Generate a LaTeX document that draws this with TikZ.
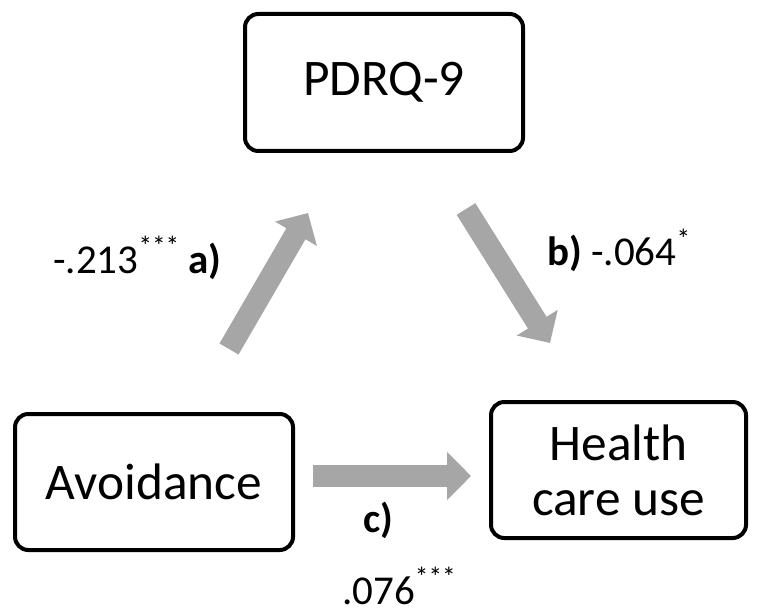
\documentclass[tikz,border=0pt]{standalone}
\usepackage{fontspec}
\setmainfont{Carlito}
\usetikzlibrary{arrows.meta}
\definecolor{pfeilgrau}{RGB}{166,166,166}
\newcommand\sterne[1]{\raisebox{13pt}{\fontsize{20.5}{20.5}\selectfont #1}}
\tikzset{
	kasten/.style={draw=black, line width=3pt, rounded corners=10pt, fill=white,
		inner sep=0pt, align=center, font=\fontsize{38.5}{41.25}\selectfont},
	pfeil/.style={draw=pfeilgrau, line width=16.5pt,
		-{Triangle[width=35.25pt, length=18pt]}},
	wert/.style={anchor=base west, inner sep=0pt, font=\fontsize{30.75}{36}\selectfont}
}
\begin{document}
\begin{tikzpicture}[x=0.75pt, y=-0.75pt]
	\useasboundingbox (0, 0) rectangle (759, 609);
	% Kaesten
	\node[kasten, minimum width=208.5pt, minimum height=102.75pt] (pdrq) at (384, 82.5) {PDRQ-9};
	\node[kasten, minimum width=208.5pt, minimum height=102pt] (avoid) at (154, 482) {Avoidance};
	\node[kasten, minimum width=191.25pt, minimum height=102pt] (health) at (618.5, 470) {Health\\care use};

	% Pfeile
	\coordinate (a1) at (229, 349);
	\coordinate (a2) at (308, 213);
	\coordinate (b1) at (466, 209);
	\coordinate (b2) at (550, 343);
	\coordinate (c1) at (313, 476);
	\coordinate (c2) at (471, 476);
	\draw[pfeil] (a1) -- (a2);
	\draw[pfeil] (b1) -- (b2);
	\draw[pfeil] (c1) -- (c2);

	% Beschriftungen
	\node[wert] (wa) at (53, 273) {-.213\sterne{***} \textbf{a)}};
	\node[wert] (wb) at (547, 266) {\textbf{b)} -.064\sterne{*}};
	\node[wert] (wc) at (363, 532) {\textbf{c)}};
	\node[wert] (wc2) at (342, 604) {.076\sterne{***}};
\end{tikzpicture}
\end{document}
